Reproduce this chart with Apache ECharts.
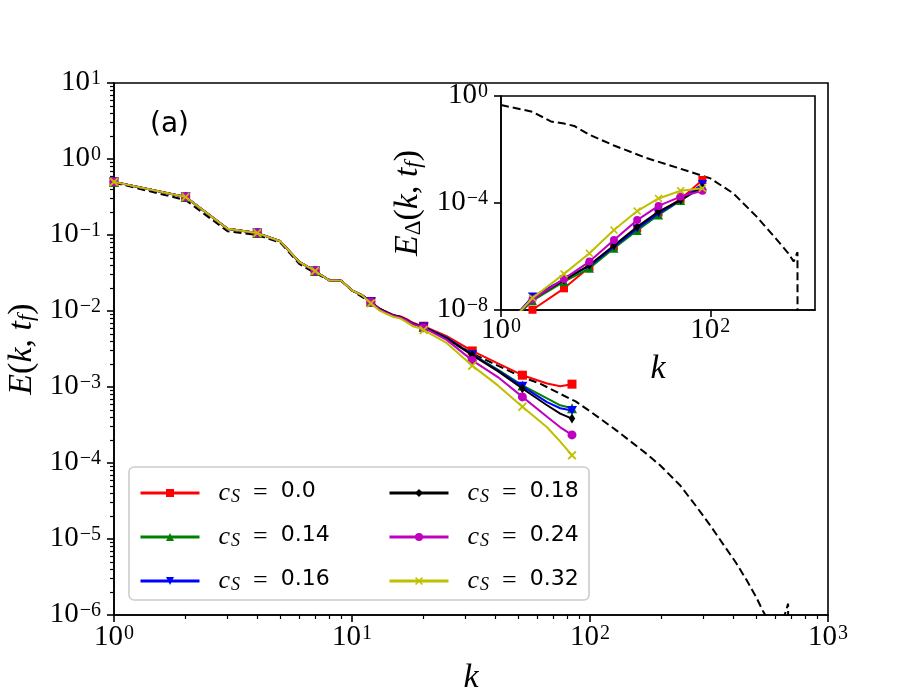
<!DOCTYPE html>
<html>
<head>
<meta charset="utf-8">
<script src="https://cdn.jsdelivr.net/npm/echarts@6/dist/echarts.min.js"></script>
<style>html,body{margin:0;padding:0;background:#fff}#c{width:921px;height:691px}</style>
</head>
<body>
<div id="c"></div>
<script>
// ---------------- data ----------------
const names = ['cs0.0', 'cs0.14', 'cs0.16', 'cs0.18', 'cs0.24', 'cs0.32'];
const csLabels = ['0.0', '0.14', '0.16', '0.18', '0.24', '0.32'];
const markerK = [1, 2, 4, 7, 12, 20, 32, 52, 84];

// main panel: E(k, t_f)
const kMain = [1,2,3,4,5,6,7,8,9,10,11,12,13,14,15,16,17,18,19,20,25,32,41,52,66,75,84];
const eRed = [0.50,0.316,0.121,0.106,0.0826,0.0442,0.0336,0.0254,0.0251,0.0187,0.0162,
  0.0133,0.0108,0.0097,0.0088,0.0085,0.0078,0.0070,0.0066,6.31e-3,4.68e-3,2.98e-3,2.04e-3,1.43e-3,1.11e-3,1.02e-3,1.09e-3];
const eGreen = [0.50,0.316,0.121,0.106,0.0826,0.0442,0.0336,0.0254,0.0251,0.0187,0.0162,
  0.0132,0.0107,0.00955,0.00871,0.00832,0.00759,0.00682,0.00646,6.17e-3,4.47e-3,2.69e-3,1.70e-3,1.05e-3,7.08e-4,5.75e-4,5.25e-4];
const eBlue = [0.50,0.316,0.121,0.106,0.0826,0.0442,0.0336,0.0254,0.0251,0.0187,0.0162,
  0.0132,0.0107,0.00955,0.00871,0.00832,0.00759,0.00682,0.00646,6.17e-3,4.47e-3,2.66e-3,1.66e-3,1.02e-3,6.31e-4,5.25e-4,4.90e-4];
const eBlack = [0.50,0.316,0.121,0.106,0.0826,0.0442,0.0336,0.0254,0.0251,0.0187,0.0162,
  0.0132,0.0107,0.00955,0.00871,0.00832,0.00759,0.00682,0.00646,6.17e-3,4.37e-3,2.63e-3,1.62e-3,9.55e-4,5.75e-4,4.47e-4,3.84e-4];
const eMagenta = [0.50,0.316,0.121,0.106,0.0826,0.0442,0.0336,0.0254,0.0251,0.0187,0.0162,
  0.0131,0.0106,0.0094,0.0086,0.0082,0.0075,0.0067,0.0064,6.03e-3,4.17e-3,2.24e-3,1.35e-3,7.41e-4,4.07e-4,2.95e-4,2.34e-4];
const eYellow = [0.50,0.316,0.121,0.106,0.0826,0.0442,0.0336,0.0254,0.0251,0.0187,0.0162,
  0.0126,0.0102,0.00912,0.00832,0.00794,0.00708,0.00631,0.00603,5.62e-3,3.80e-3,1.91e-3,1.05e-3,5.50e-4,2.95e-4,1.91e-4,1.26e-4];

// main panel: dashed reference spectrum
const kRef = [1,2,3,4,5,6,7,8,9,10,12,14,16,20,25,32,41,52,62,75,87,100,129,173,197,240,281,320,363,410,455,500,535,575,615,645,668,680,683];
const eRef = [0.490,0.288,0.112,0.100,0.0794,0.0417,0.0316,0.0257,0.0251,0.0186,0.0129,9.33e-3,8.13e-3,6.03e-3,4.37e-3,2.75e-3,1.91e-3,1.35e-3,1.10e-3,8.13e-4,
  6.46e-4,4.79e-4,2.69e-4,1.32e-4,9.33e-5,5.01e-5,2.63e-5,1.51e-5,8.51e-6,4.90e-6,2.88e-6,1.70e-6,1.10e-6,7.59e-7,6.46e-7,8.32e-7,1.17e-6,1.41e-6,1e-12];

// inset: E_Delta(k, t_f)
const kIn = [1, 2, 4, 7, 12, 20, 32, 52, 84];
const dRed = [3.2e-11, 1.02e-8, 6.46e-8, 3.98e-7, 2.34e-6, 1.12e-5, 4.37e-5, 1.41e-4, 7.24e-4];
const dGreen = [1.5e-9, 2.24e-8, 1.15e-7, 3.63e-7, 2.04e-6, 9.33e-6, 3.55e-5, 1.23e-4, 4.37e-4];
const dBlue = [1.5e-9, 3.16e-8, 1.41e-7, 4.47e-7, 2.34e-6, 1.12e-5, 4.07e-5, 1.29e-4, 5.13e-4];
const dBlack = [1.5e-9, 2.63e-8, 1.32e-7, 4.79e-7, 2.57e-6, 1.29e-5, 4.79e-5, 1.29e-4, 3.89e-4];
const dMagenta = [1.5e-9, 2.51e-8, 1.45e-7, 6.46e-7, 4.17e-6, 2.29e-5, 7.76e-5, 1.74e-4, 2.88e-4];
const dYellow = [1.5e-9, 2.82e-8, 2.24e-7, 1.32e-6, 9.77e-6, 5.01e-5, 1.48e-4, 2.88e-4, 3.55e-4];

// inset: dashed reference
const kInRef = [1,2,3,4,5,7,12,25,50,100,166,277,463,556,625,680,683];
const eInRef = [0.461,0.257,0.112,0.0933,0.0759,0.0355,0.0141,4.68e-3,2.00e-3,8.32e-4,2.29e-4,3.09e-5,3.09e-6,1.32e-6,6.46e-7,1.45e-6,1e-12];

// tick labels
const mainXTicks = [1, 10, 100, 1000];
const insetXTicks = [1, 100];
const insetYTicks = [1e-8, 1e-4, 1];

// ---------------- styles ----------------
const SERIF = 'Liberation Serif';
const XPATH = 'path://M0,1.4L1.4,0L5,3.6L8.6,0L10,1.4L6.4,5L10,8.6L8.6,10L5,6.4L1.4,10L0,8.6L3.6,5Z';
const seriesStyle = [
  {color: '#ff0000', symbol: 'rect', size: 9},
  {color: '#008000', symbol: 'triangle', size: 10},
  {color: '#0000ff', symbol: 'path://M0,0L10,0L5,9Z', size: 10},
  {color: '#000000', symbol: 'path://M3.2,0L6.4,5L3.2,10L0,5Z', size: 10},
  {color: '#bf00bf', symbol: 'circle', size: 9},
  {color: '#bfbf00', symbol: XPATH, size: 9}
];
const mainVals = [eRed, eGreen, eBlue, eBlack, eMagenta, eYellow];
const insetVals = [dRed, dGreen, dBlue, dBlack, dMagenta, dYellow];

function powLabel(v) {
  const l = Math.log10(v);
  const e = Math.round(l);
  if (Math.abs(l - e) > 1e-6) return '';
  return '{b|10}{e|' + (e < 0 ? '\u2212' + (-e) : String(e)) + '}';
}
const tickRich = {
  b: {fontFamily: SERIF, fontSize: 29, lineHeight: 28, verticalAlign: 'bottom', color: '#000'},
  e: {fontFamily: SERIF, fontSize: 20, lineHeight: 20, verticalAlign: 'top', padding: [0, 0, 12, 1], color: '#000'}
};
const nameRich = {
  i: {fontFamily: SERIF, fontStyle: 'italic', fontSize: 34, lineHeight: 34, verticalAlign: 'top', color: '#000'},
  r: {fontFamily: SERIF, fontSize: 34, lineHeight: 34, verticalAlign: 'top', color: '#000'},
  sub: {fontFamily: SERIF, fontStyle: 'italic', fontSize: 23, lineHeight: 23, verticalAlign: 'bottom', padding: [15, 0, 0, 0], color: '#000'},
  subr: {fontFamily: SERIF, fontSize: 23, lineHeight: 23, verticalAlign: 'bottom', padding: [15, 0, 0, 0], color: '#000'}
};

const axisLine = {show: true, onZero: false, lineStyle: {color: '#000', width: 1.6}};
function tickCfg(custom) {
  const t = {show: true, inside: false, length: 7, lineStyle: {color: '#000', width: 1.6}};
  if (custom) t.customValues = custom;
  return t;
}
function labelCfg(margin, custom) {
  const l = {show: true, margin: margin, formatter: powLabel, rich: tickRich, color: '#000'};
  if (custom) l.customValues = custom;
  return l;
}
const minorOn = {show: true, splitNumber: 9, length: 4, lineStyle: {color: '#000', width: 1.2}};

// ---------------- series ----------------
const series = [];
series.push({
  type: 'line', name: 'ref', xAxisIndex: 0, yAxisIndex: 0,
  data: kRef.map((k, i) => [k, eRef[i]]),
  showSymbol: false, symbol: 'none', clip: true, z: 2,
  lineStyle: {color: '#000', width: 2, type: [8, 4]},
  emphasis: {disabled: true}, animation: false
});
series.push({
  type: 'line', name: 'refInset', xAxisIndex: 1, yAxisIndex: 1,
  data: kInRef.map((k, i) => [k, eInRef[i]]),
  showSymbol: false, symbol: 'none', clip: true, z: 2,
  lineStyle: {color: '#000', width: 2, type: [8, 4]},
  emphasis: {disabled: true}, animation: false
});
names.forEach((nm, s) => {
  const st = seriesStyle[s];
  series.push({
    type: 'line', name: nm, xAxisIndex: 0, yAxisIndex: 0,
    data: kMain.map((k, i) => [k, mainVals[s][i]]),
    symbol: st.symbol, symbolKeepAspect: true, showAllSymbol: true,
    symbolSize: (v) => markerK.indexOf(v[0]) >= 0 ? st.size : 0,
    lineStyle: {color: st.color, width: 2}, itemStyle: {color: st.color},
    clip: true, z: 3 + s, emphasis: {disabled: true}, animation: false
  });
  series.push({
    type: 'line', name: nm, xAxisIndex: 1, yAxisIndex: 1,
    data: kIn.map((k, i) => [k, insetVals[s][i]]),
    symbol: st.symbol, symbolKeepAspect: true, showAllSymbol: true,
    symbolSize: (v) => markerK.indexOf(v[0]) >= 0 ? st.size - 1 : 0,
    lineStyle: {color: st.color, width: 2}, itemStyle: {color: st.color},
    clip: true, z: 3 + s, emphasis: {disabled: true}, animation: false
  });
});

const legendRich = {
  c: {fontFamily: SERIF, fontStyle: 'italic', fontSize: 26, lineHeight: 26, verticalAlign: 'top', color: '#000'},
  s: {fontFamily: SERIF, fontStyle: 'italic', fontSize: 18, lineHeight: 16, verticalAlign: 'bottom', padding: [11, 0, 0, 1], color: '#000'},
  r: {fontFamily: SERIF, fontSize: 26, lineHeight: 26, verticalAlign: 'top', color: '#000'},
  n: {fontFamily: 'DejaVu Sans', fontSize: 22, lineHeight: 26, verticalAlign: 'top', color: '#000'}
};
function legendCfg(col) {
  return {
    data: names.slice(col * 3, col * 3 + 3),
    orient: 'vertical', left: col === 0 ? 139 : 388, top: 477, padding: 0,
    itemWidth: 59, itemHeight: 10, itemGap: 15, selectedMode: false,
    lineStyle: {width: 3},
    formatter: (n) => '{c|c}{s|S}{r|  =  }{n|' + csLabels[names.indexOf(n)] + '}',
    textStyle: {padding: [0, 0, 0, 14], rich: legendRich}
  };
}

const option = {
  backgroundColor: '#fff',
  animation: false,
  grid: [
    {left: 114, top: 83, right: 93, bottom: 76, show: true, borderColor: '#000', borderWidth: 1.6,
     backgroundColor: 'transparent', containLabel: false, outerBoundsMode: 'none'},
    {left: 501, top: 96, right: 106, bottom: 381, show: true, borderColor: '#000', borderWidth: 1.6,
     backgroundColor: '#fff', containLabel: false, outerBoundsMode: 'none'}
  ],
  xAxis: [
    {type: 'log', logBase: 10, gridIndex: 0, min: 1, max: 1000,
     axisLine: axisLine, axisTick: tickCfg(mainXTicks), minorTick: minorOn,
     splitLine: {show: false}, minorSplitLine: {show: false},
     axisLabel: labelCfg(9, mainXTicks),
     name: 'k', nameLocation: 'middle', nameGap: 39,
     nameTextStyle: {fontFamily: SERIF, fontStyle: 'italic', fontSize: 34, color: '#000'}},
    {type: 'log', logBase: 10, gridIndex: 1, min: 1, max: 1000,
     axisLine: axisLine, axisTick: tickCfg(insetXTicks), minorTick: {show: false},
     splitLine: {show: false}, minorSplitLine: {show: false},
     axisLabel: labelCfg(7, insetXTicks),
     name: 'k', nameLocation: 'middle', nameGap: 42,
     nameTextStyle: {fontFamily: SERIF, fontStyle: 'italic', fontSize: 34, color: '#000'}}
  ],
  yAxis: [
    {type: 'log', logBase: 10, gridIndex: 0, min: 1e-6, max: 10,
     axisLine: axisLine, axisTick: tickCfg(), minorTick: minorOn,
     splitLine: {show: false}, minorSplitLine: {show: false},
     axisLabel: labelCfg(13),
     name: '{i|E}{r|(}{i|k}{r|, }{i|t}{sub|f}{r|)}', nameLocation: 'middle', nameRotate: 90, nameGap: 73,
     nameTextStyle: {rich: nameRich}},
    {type: 'log', logBase: 10, gridIndex: 1, min: 1e-8, max: 1,
     axisLine: axisLine, axisTick: tickCfg(insetYTicks), minorTick: {show: false},
     splitLine: {show: false}, minorSplitLine: {show: false},
     axisLabel: labelCfg(13, insetYTicks),
     name: '{i|E}{subr|\u0394}{r|(}{i|k}{r|, }{i|t}{sub|f}{r|)}', nameLocation: 'middle', nameRotate: 90, nameGap: 76,
     nameTextStyle: {rich: nameRich}}
  ],
  legend: [legendCfg(0), legendCfg(1)],
  graphic: {elements: [
    {type: 'rect', z: 3, silent: true,
     shape: {x: 129, y: 467, width: 460, height: 133, r: 5},
     style: {fill: 'rgba(255,255,255,0.8)', stroke: '#cccccc', lineWidth: 1.6}},
    {type: 'text', z: 5, silent: true, x: 150, y: 111,
     style: {text: '(a)', font: '28px "DejaVu Sans"', fill: '#000'}}
  ]},
  series: series
};

const chart = echarts.init(document.getElementById('c'), null, {renderer: 'canvas'});
chart.setOption(option);
</script>
</body>
</html>
